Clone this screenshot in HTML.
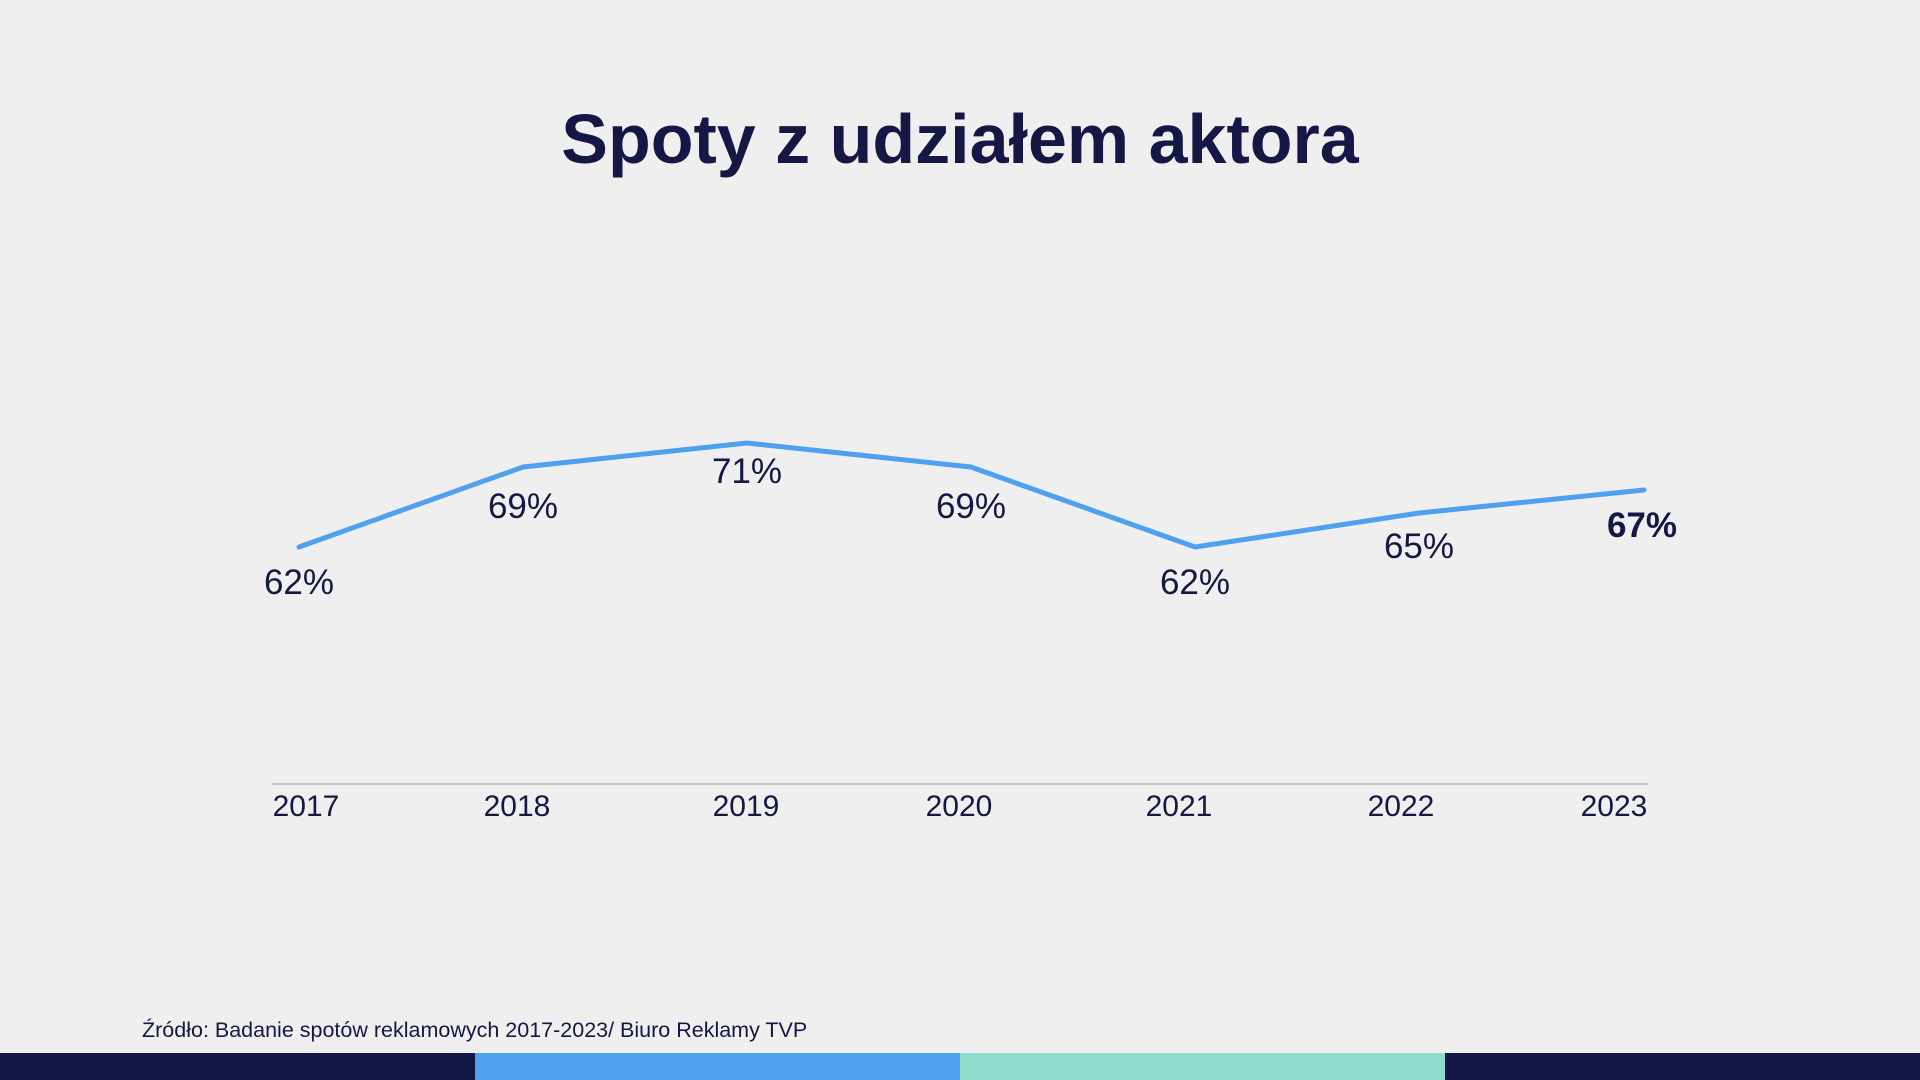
<!DOCTYPE html>
<html><head><meta charset="utf-8"><style>
html,body{margin:0;padding:0;width:1920px;height:1080px;background:#efefef;overflow:hidden;font-family:"Liberation Sans",sans-serif;}
svg{position:absolute;left:0;top:0}
</style></head><body>
<svg width="1920" height="1080" xmlns="http://www.w3.org/2000/svg">
<text x="960" y="163" text-anchor="middle" font-family="Liberation Sans, sans-serif" font-weight="bold" font-size="70" fill="#151744">Spoty z udziałem aktora</text>
<line x1="272" y1="784" x2="1648" y2="784" stroke="#b5b5b5" stroke-width="1.5"/>
<polyline points="299,547 523,467 747,443 971,467 1195,547 1419,513 1644,490" fill="none" stroke="#50a0f0" stroke-width="5" stroke-linejoin="round" stroke-linecap="round"/>
<g font-family="Liberation Sans, sans-serif" font-size="35" fill="#151744" text-anchor="middle">
<text x="299" y="594">62%</text>
<text x="523" y="518">69%</text>
<text x="747" y="483">71%</text>
<text x="971" y="518">69%</text>
<text x="1195" y="594">62%</text>
<text x="1419" y="558">65%</text>
<text x="1642" y="537" font-weight="bold">67%</text>
</g>
<g font-family="Liberation Sans, sans-serif" font-size="30" fill="#151744" text-anchor="middle">
<text x="306" y="816">2017</text>
<text x="517" y="816">2018</text>
<text x="746" y="816">2019</text>
<text x="959" y="816">2020</text>
<text x="1179" y="816">2021</text>
<text x="1401" y="816">2022</text>
<text x="1614" y="816">2023</text>
</g>
<text x="142" y="1037" font-family="Liberation Sans, sans-serif" font-size="21.5" fill="#151744">Źródło: Badanie spotów reklamowych 2017-2023/ Biuro Reklamy TVP</text>
<rect x="0" y="1053" width="475" height="27" fill="#151744"/>
<rect x="475" y="1053" width="485" height="27" fill="#50a0f0"/>
<rect x="960" y="1053" width="485" height="27" fill="#8edccc"/>
<rect x="1445" y="1053" width="475" height="27" fill="#151744"/>
</svg>
</body></html>
